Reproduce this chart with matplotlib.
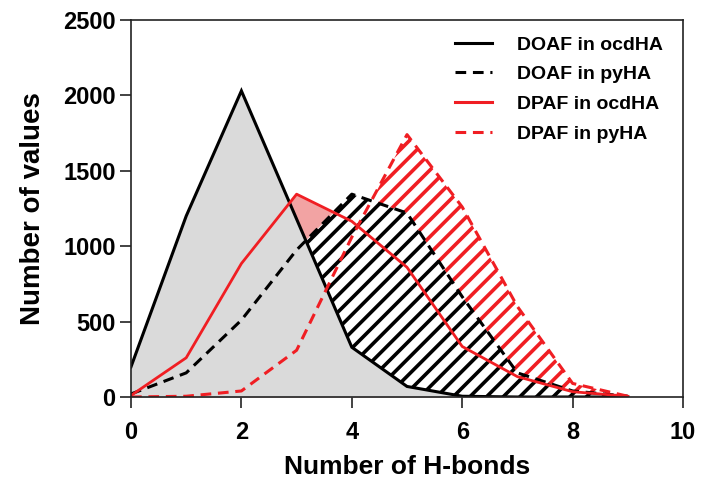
import matplotlib
matplotlib.use("Agg")
import matplotlib.pyplot as plt
from matplotlib.lines import Line2D

plt.rcParams['font.family'] = ['Liberation Sans', 'DejaVu Sans']
plt.rcParams['font.weight'] = 'bold'
plt.rcParams['hatch.linewidth'] = 2.6

# Data
hbonds = [0, 1, 2, 3, 4, 5, 6, 7, 8, 9]
doaf_ocdha = [200, 1200, 2030, 1180, 330, 70, 5, 0, 0, 0]
doaf_pyha = [20, 160, 510, 975, 1345, 1220, 665, 160, 40, 5]
dpaf_ocdha = [10, 260, 885, 1345, 1165, 860, 335, 135, 35, 5]
dpaf_pyha = [0, 5, 40, 310, 1060, 1740, 1260, 600, 90, 5]
labels = ["DOAF in ocdHA", "DOAF in pyHA", "DPAF in ocdHA", "DPAF in pyHA"]
xticks = [0, 2, 4, 6, 8, 10]
yticks = [0, 500, 1000, 1500, 2000, 2500]

RED = '#f01e23'
fig = plt.figure(figsize=(7.03, 4.79), dpi=100)
ax = fig.add_axes([131/703, 1 - 397/479, (683-131)/703, (397-20)/479])

# fills (back to front)
ax.fill_between(hbonds, dpaf_ocdha, 0, color='#f2a3a3', lw=0, zorder=1)
ax.fill_between(hbonds, dpaf_pyha, 0, facecolor='white', edgecolor=RED,
                hatch='//', lw=0, zorder=2)
ax.fill_between(hbonds, doaf_pyha, 0, facecolor='white', edgecolor='black',
                hatch='//', lw=0, zorder=3)
ax.fill_between(hbonds, doaf_ocdha, 0, color='#dadada', lw=0, zorder=4)

# lines
ax.plot(hbonds, doaf_ocdha, color='black', lw=2.2, zorder=6, solid_joinstyle='miter')
ax.plot(hbonds, doaf_pyha, color='black', lw=2.2, ls=(0, (3.5, 2.2)), zorder=6)
ax.plot(hbonds, dpaf_ocdha, color=RED, lw=2.0, zorder=6)
ax.plot(hbonds, dpaf_pyha, color=RED, lw=2.2, ls=(0, (3.5, 2.2)), zorder=6)

ax.set_xlim(0, 10)
ax.set_ylim(0, 2500)
ax.set_xticks(xticks)
ax.set_yticks(yticks)
ax.tick_params(axis='both', direction='out', length=8, width=1.2, color='#222222',
               labelsize=17, pad=3)
ax.tick_params(axis='x', pad=9)
for lab in ax.get_xticklabels() + ax.get_yticklabels():
    lab.set_fontweight('bold')
for s in ax.spines.values():
    s.set_linewidth(1.2)
    s.set_color('#222222')
    s.set_zorder(10)

ax.set_xlabel("Number of H-bonds", fontsize=19, fontweight='bold', labelpad=8)
ax.set_ylabel("Number of values", fontsize=20, fontweight='bold', labelpad=12)

handles = [
    Line2D([], [], color='black', lw=2.2),
    Line2D([], [], color='black', lw=2.2, ls=(0, (3.5, 2.2))),
    Line2D([], [], color=RED, lw=2.2),
    Line2D([], [], color=RED, lw=2.2, ls=(0, (3.5, 2.2))),
]
leg = fig.legend(handles, labels, loc='upper left',
                 bbox_to_anchor=(455/703, 1 - 36/479),
                 bbox_transform=fig.transFigure, frameon=False,
                 borderpad=0, borderaxespad=0, handlelength=1.9,
                 handletextpad=1.3, labelspacing=0.62,
                 prop={'size': 14, 'weight': 'bold'})

fig.savefig('out.png', dpi=100)
